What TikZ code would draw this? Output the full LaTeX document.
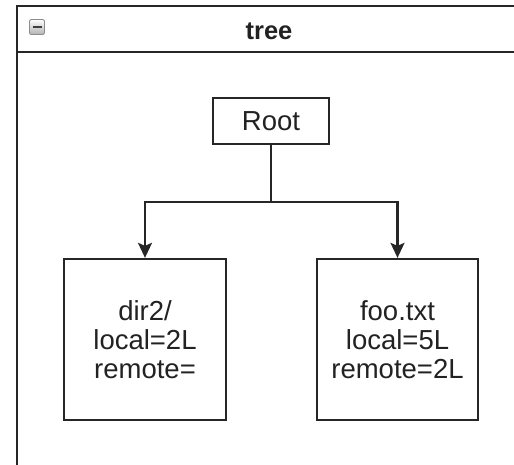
\documentclass[tikz,border=0pt]{standalone}
\usepackage{fontspec}
\setmainfont{Liberation Sans}
\usetikzlibrary{arrows.meta}
\definecolor{txt}{HTML}{222222}
\begin{document}
\begin{tikzpicture}[x=1pt,y=1pt,
  box/.style={draw=black!85,line width=2.3pt,fill=white,inner sep=0pt,text=txt,align=center,font=\fontsize{27.5}{29}\selectfont},
  conn/.style={draw=black!85,line width=2.1pt},
  arr/.style={conn,-{Stealth[length=15pt,width=14pt,inset=3pt]}}]
\useasboundingbox (0,0) rectangle (514,-464);
\clip (0,0) rectangle (514,-464);
% container
\draw[line width=2.3pt,draw=black!85,fill=white] (17,-6) rectangle (530,-480);
\draw[line width=2.3pt,draw=black!85] (17,-52) -- (530,-52);
\node[font=\bfseries\fontsize{25.5}{30}\selectfont,text=txt] (title) at (269,-31) {tree};
% collapse icon
\node[draw=black!45,line width=0.9pt,rounded corners=2pt,top color=white,bottom color=black!30,minimum width=15pt,minimum height=15pt,inner sep=0pt] (icon) at (37,-27) {};
\draw[line width=2.2pt,black!75] ([xshift=-4.5pt]icon.center) -- ([xshift=4.5pt]icon.center);
% nodes
\node[box,minimum width=116pt,minimum height=46pt] (root) at (271,-121) {Root};
\node[box,minimum width=162pt,minimum height=161pt] (left) at (145,-339.5) {dir2/\\local=2L\\remote=};
\node[box,minimum width=161pt,minimum height=161pt] (right) at (397.5,-339.5) {foo.txt\\local=5L\\remote=2L};
\coordinate (j) at (271,-202);
\draw[conn] (root.south) -- (j);
\draw[arr] (j) -| (left.north);
\draw[arr] (j) -| (right.north);
\end{tikzpicture}
\end{document}
